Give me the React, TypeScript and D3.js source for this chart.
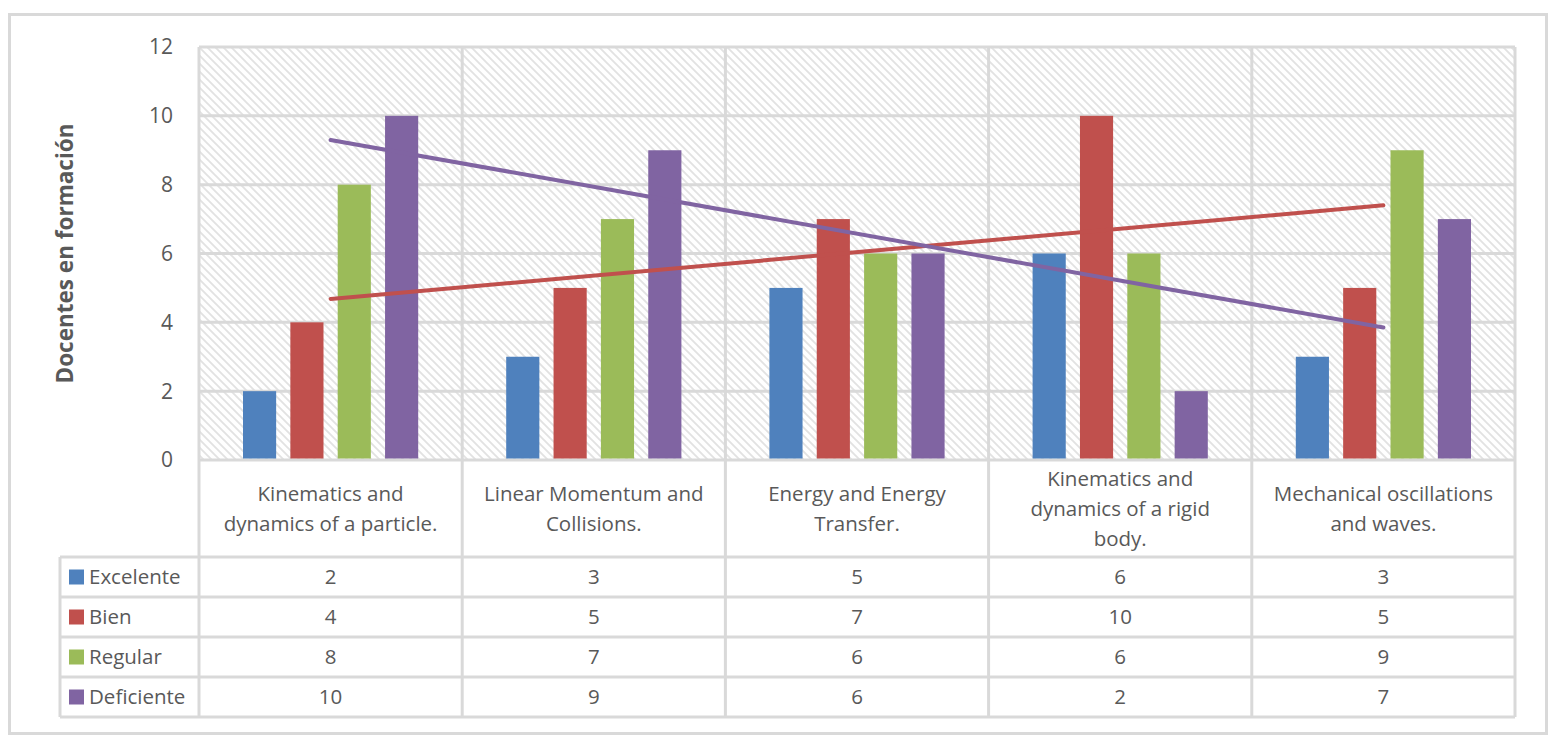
import React from "react";
import { scaleBand, scaleLinear, range } from "d3";

// chart data
const categories = [
  ["Kinematics and", "dynamics of a particle."],
  ["Linear Momentum and", "Collisions."],
  ["Energy and Energy", "Transfer."],
  ["Kinematics and", "dynamics of a rigid", "body."],
  ["Mechanical oscillations", "and waves."],
];
const seriesNames = ["Excelente", "Bien", "Regular", "Deficiente"];
const seriesColors = ["#4f81bd", "#c0504d", "#9bbb59", "#8064a2"];
const excelente = [2, 3, 5, 6, 3];
const bien = [4, 5, 7, 10, 5];
const regular = [8, 7, 6, 6, 9];
const deficiente = [10, 9, 6, 2, 7];
const yTicks = [0, 2, 4, 6, 8, 10, 12];
// linear trendlines (first and last category)
const bienTrend = [4.68, 7.4];
const deficienteTrend = [9.3, 3.85];

const series = [excelente, bien, regular, deficiente];

const W = 1559;
const H = 748;
const plot = { left: 199, right: 1515, top: 47, bottom: 460 };
const labelRowBottom = 557;
const rowH = 40;
const legendLeft = 60;
const font = "'Open Sans', sans-serif";
const textColor = "#595959";
const gridColor = "#d9d9d9";
const fs = 20.5;

export default function App() {
  const x0 = scaleBand<number>()
    .domain(range(categories.length))
    .range([plot.left, plot.right]);
  const x1 = scaleBand<number>()
    .domain(range(seriesNames.length))
    .range([44, x0.bandwidth() - 44])
    .paddingInner(0.3);
  const y = scaleLinear().domain([0, 12]).range([plot.bottom, plot.top]);

  const center = (i: number) => (x0(i) ?? 0) + x0.bandwidth() / 2;
  const tableBottom = labelRowBottom + rowH * seriesNames.length;

  const trends = [
    { values: bienTrend, color: seriesColors[1] },
    { values: deficienteTrend, color: seriesColors[3] },
  ];

  return (
    <svg
      width={W}
      height={H}
      style={{ position: "absolute", left: 0, top: 0, background: "#fff" }}
      fontFamily={font}
    >
      <defs>
        <pattern id="hatch" width="8" height="8" patternUnits="userSpaceOnUse">
          <rect width="8" height="8" fill="#fff" />
          <path d="M-2,-2 L10,10 M-2,6 L2,10 M6,-2 L10,2" stroke="#e2e2e2" strokeWidth="1.8" />
        </pattern>
      </defs>

      {/* outer frame */}
      <rect x={9.5} y={14.5} width={1537} height={719} fill="#fff" stroke={gridColor} strokeWidth={3} />

      {/* plot background */}
      <rect
        x={plot.left}
        y={plot.top}
        width={plot.right - plot.left}
        height={plot.bottom - plot.top}
        fill="url(#hatch)"
      />

      {/* horizontal gridlines */}
      {yTicks.map((t) => (
        <line key={t} x1={plot.left} x2={plot.right} y1={y(t)} y2={y(t)} stroke={gridColor} strokeWidth={3} />
      ))}

      {/* vertical lines for categories and table */}
      {range(categories.length + 1).map((i) => {
        const xx = i < categories.length ? x0(i)! : plot.right;
        return <line key={i} x1={xx} x2={xx} y1={plot.top} y2={tableBottom} stroke={gridColor} strokeWidth={3} />;
      })}

      {/* table horizontal lines */}
      {range(seriesNames.length + 1).map((r) => (
        <line
          key={r}
          x1={legendLeft}
          x2={plot.right}
          y1={labelRowBottom + r * rowH}
          y2={labelRowBottom + r * rowH}
          stroke={gridColor}
          strokeWidth={3}
        />
      ))}
      <line x1={legendLeft} x2={legendLeft} y1={labelRowBottom} y2={tableBottom} stroke={gridColor} strokeWidth={3} />

      {/* bars */}
      {categories.map((_, ci) =>
        series.map((vals, si) => (
          <rect
            key={`${ci}-${si}`}
            x={(x0(ci) ?? 0) + (x1(si) ?? 0)}
            y={y(vals[ci])}
            width={x1.bandwidth()}
            height={y(0) - y(vals[ci]) - 1.5}
            fill={seriesColors[si]}
          />
        ))
      )}

      {/* trendlines */}
      {trends.map((t, i) => (
        <line
          key={i}
          x1={center(0)}
          x2={center(categories.length - 1)}
          y1={y(t.values[0])}
          y2={y(t.values[1])}
          stroke={t.color}
          strokeWidth={4}
          strokeLinecap="round"
        />
      ))}

      {/* y ticks */}
      {yTicks.map((t) => (
        <text key={t} x={173} y={y(t)} dy="0.35em" textAnchor="end" fontSize={21} fill={textColor}>
          {t}
        </text>
      ))}

      <text
        transform={`translate(73,${(plot.top + plot.bottom) / 2}) rotate(-90)`}
        textAnchor="middle"
        fontSize={22.5}
        fontWeight="bold"
        fill={textColor}
      >
        Docentes en formación
      </text>

      {/* category labels */}
      {categories.map((lines, ci) => {
        const cy = (plot.bottom + labelRowBottom) / 2;
        const lh = 30;
        const start = cy - ((lines.length - 1) * lh) / 2;
        return (
          <text key={ci} textAnchor="middle" fontSize={fs} fill={textColor}>
            {lines.map((l, li) => (
              <tspan key={li} x={center(ci)} y={start + li * lh} dy="0.35em">
                {l}
              </tspan>
            ))}
          </text>
        );
      })}

      {/* legend column and values */}
      {seriesNames.map((name, si) => {
        const cy = labelRowBottom + si * rowH + rowH / 2;
        return (
          <g key={name}>
            <rect x={69} y={cy - 7.5} width={15} height={15} fill={seriesColors[si]} />
            <text x={89} y={cy} dy="0.35em" fontSize={fs} fill={textColor}>
              {name}
            </text>
            {series[si].map((v, ci) => (
              <text key={ci} x={center(ci)} y={cy} dy="0.35em" textAnchor="middle" fontSize={fs} fill={textColor}>
                {v}
              </text>
            ))}
          </g>
        );
      })}
    </svg>
  );
}
